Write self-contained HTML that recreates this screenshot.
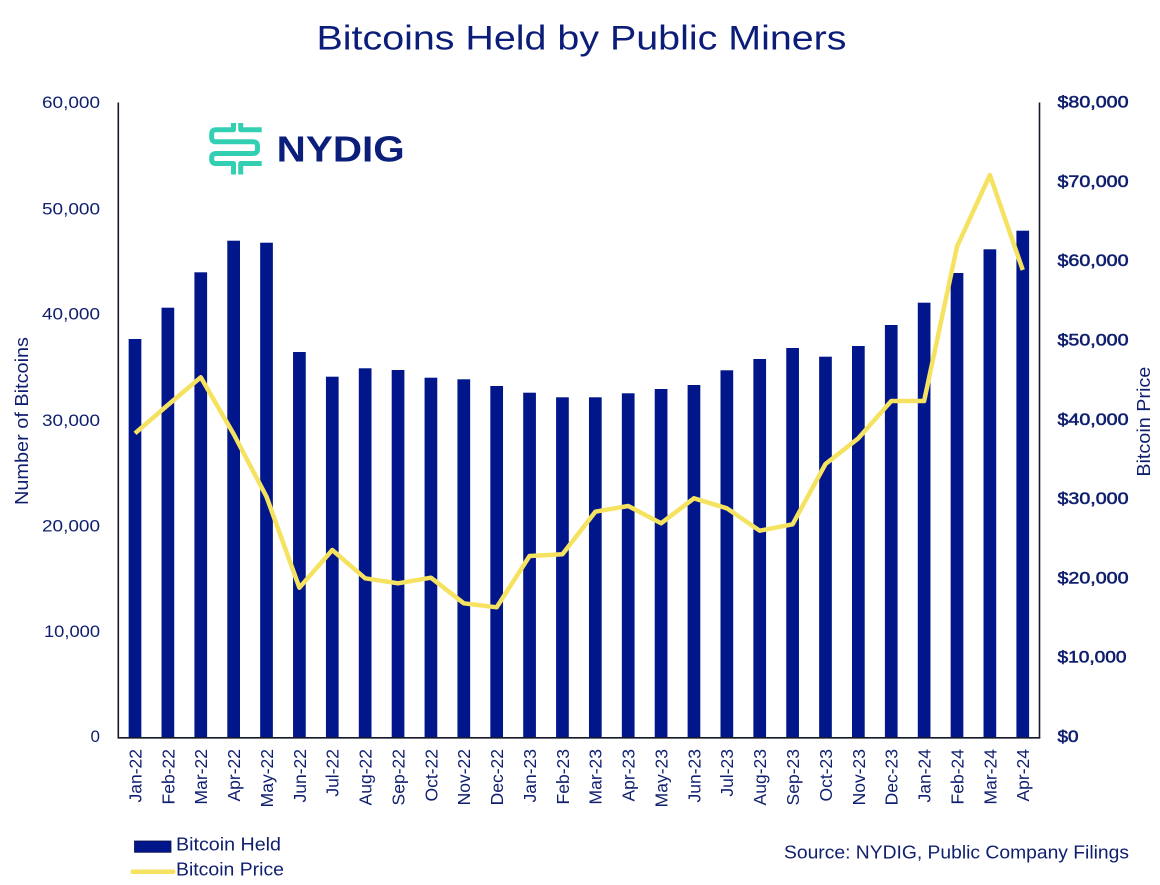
<!DOCTYPE html>
<html>
<head>
<meta charset="utf-8">
<style>
html,body{margin:0;padding:0;background:#fff;}
svg{display:block;}
text{font-family:"Liberation Sans",Arial,sans-serif;}
</style>
</head>
<body>
<svg width="1160" height="885" viewBox="0 0 1160 885" xmlns="http://www.w3.org/2000/svg">
<rect width="1160" height="885" fill="#fff"/>

<!-- Title -->
<text x="316.5" y="49.5" font-size="34" fill="#0B1D78" textLength="530" lengthAdjust="spacingAndGlyphs">Bitcoins Held by Public Miners</text>

<!-- NYDIG logo -->
<g fill="none" stroke="#33CFB2" stroke-width="5" stroke-linecap="butt" stroke-linejoin="round">
  <path d="M233.5 123 V129.7 H216 Q211.7 129.7 211.7 134 V137.5 Q211.7 141.8 216 141.8 H253 Q257.5 141.8 257.5 146 V149 Q257.5 153.5 253 153.5 H216 Q211.7 153.5 211.7 158 V159.2 Q211.7 163.5 216 163.5 H233.5 V174.5"/>
  <path d="M240.7 123 V129.7 H261.7"/>
  <path d="M240.7 174.5 V163.5 H261.7"/>
</g>
<text x="276.7" y="161.7" font-size="36" font-weight="bold" fill="#0B1F7A" textLength="128" lengthAdjust="spacingAndGlyphs">NYDIG</text>

<!-- Bars -->
<g fill="#00168A">
  <rect x="128.65" y="339" width="12.7" height="398"/>
  <rect x="161.53" y="307.7" width="12.7" height="429.3"/>
  <rect x="194.41" y="272.3" width="12.7" height="464.7"/>
  <rect x="227.29" y="240.7" width="12.7" height="496.3"/>
  <rect x="260.17" y="242.7" width="12.7" height="494.3"/>
  <rect x="293.05" y="352" width="12.7" height="385"/>
  <rect x="325.93" y="376.7" width="12.7" height="360.3"/>
  <rect x="358.81" y="368.3" width="12.7" height="368.7"/>
  <rect x="391.69" y="370" width="12.7" height="367"/>
  <rect x="424.57" y="377.7" width="12.7" height="359.3"/>
  <rect x="457.45" y="379.3" width="12.7" height="357.7"/>
  <rect x="490.33" y="386" width="12.7" height="351"/>
  <rect x="523.21" y="392.7" width="12.7" height="344.3"/>
  <rect x="556.09" y="397.3" width="12.7" height="339.7"/>
  <rect x="588.97" y="397.3" width="12.7" height="339.7"/>
  <rect x="621.85" y="393.3" width="12.7" height="343.7"/>
  <rect x="654.73" y="389" width="12.7" height="348"/>
  <rect x="687.61" y="385" width="12.7" height="352"/>
  <rect x="720.49" y="370.3" width="12.7" height="366.7"/>
  <rect x="753.37" y="359" width="12.7" height="378"/>
  <rect x="786.25" y="348" width="12.7" height="389"/>
  <rect x="819.13" y="356.7" width="12.7" height="380.3"/>
  <rect x="852.01" y="346" width="12.7" height="391"/>
  <rect x="884.89" y="325" width="12.7" height="412"/>
  <rect x="917.77" y="302.7" width="12.7" height="434.3"/>
  <rect x="950.65" y="273" width="12.7" height="464"/>
  <rect x="983.53" y="249.3" width="12.7" height="487.7"/>
  <rect x="1016.41" y="230.7" width="12.7" height="506.3"/>
</g>

<!-- Price line -->
<polyline fill="none" stroke="#F6E261" stroke-width="4.5" stroke-linejoin="round" stroke-linecap="butt"
 points="135,433.3 167.88,405 200.76,377.3 233.64,434 266.52,496.7 299.4,587.7 332.28,550 365.16,578.3 398.04,583.3 430.92,577.7 463.8,603.3 496.68,607.3 529.56,556 562.44,554.3 595.32,511.7 628.2,506 661.08,523.3 693.96,498.3 726.84,508.3 759.72,530.7 792.6,524.3 825.48,464 858.36,438.3 891.24,401 924.12,401 957,246.7 989.88,175 1022.76,270"/>

<!-- Axes -->
<g stroke="#15172B" stroke-width="1.6" fill="none">
  <line x1="118.3" y1="102.5" x2="118.3" y2="738"/>
  <line x1="1039.5" y1="102.5" x2="1039.5" y2="738"/>
  <line x1="117.5" y1="737.8" x2="1040.3" y2="737.8"/>
</g>

<!-- Left tick labels -->
<g font-size="17" fill="#0F1F6E" text-anchor="end">
  <text x="100" y="742">0</text>
  <text x="100" y="637" textLength="56" lengthAdjust="spacingAndGlyphs">10,000</text>
  <text x="100" y="531.5" textLength="58" lengthAdjust="spacingAndGlyphs">20,000</text>
  <text x="100" y="425.8" textLength="58" lengthAdjust="spacingAndGlyphs">30,000</text>
  <text x="100" y="319.5" textLength="58" lengthAdjust="spacingAndGlyphs">40,000</text>
  <text x="100" y="214.3" textLength="58" lengthAdjust="spacingAndGlyphs">50,000</text>
  <text x="100" y="107.8" textLength="58" lengthAdjust="spacingAndGlyphs">60,000</text>
</g>

<!-- Right tick labels -->
<g font-size="16.5" fill="#0F1F6E" stroke="#0F1F6E" stroke-width="0.55">
  <text x="1057.5" y="742" textLength="21" lengthAdjust="spacingAndGlyphs">$0</text>
  <text x="1057.5" y="662.7" textLength="69" lengthAdjust="spacingAndGlyphs">$10,000</text>
  <text x="1057.5" y="583.4" textLength="71" lengthAdjust="spacingAndGlyphs">$20,000</text>
  <text x="1057.5" y="504.1" textLength="71" lengthAdjust="spacingAndGlyphs">$30,000</text>
  <text x="1057.5" y="424.8" textLength="71" lengthAdjust="spacingAndGlyphs">$40,000</text>
  <text x="1057.5" y="345.5" textLength="71" lengthAdjust="spacingAndGlyphs">$50,000</text>
  <text x="1057.5" y="266.2" textLength="71" lengthAdjust="spacingAndGlyphs">$60,000</text>
  <text x="1057.5" y="186.9" textLength="71" lengthAdjust="spacingAndGlyphs">$70,000</text>
  <text x="1057.5" y="107.6" textLength="71" lengthAdjust="spacingAndGlyphs">$80,000</text>
</g>

<!-- Axis titles -->
<text transform="translate(28,421) rotate(-90)" text-anchor="middle" font-size="18" fill="#0F1F6E" textLength="168" lengthAdjust="spacingAndGlyphs">Number of Bitcoins</text>
<text transform="translate(1150,421.7) rotate(-90)" text-anchor="middle" font-size="18" fill="#0F1F6E" textLength="110" lengthAdjust="spacingAndGlyphs">Bitcoin Price</text>

<!-- X labels -->
<g font-size="17.5" fill="#0F1F6E" text-anchor="end">
  <text transform="translate(141.4,749) rotate(-90)">Jan-22</text>
  <text transform="translate(174.3,749) rotate(-90)">Feb-22</text>
  <text transform="translate(207.2,749) rotate(-90)">Mar-22</text>
  <text transform="translate(240.0,749) rotate(-90)">Apr-22</text>
  <text transform="translate(272.9,749) rotate(-90)">May-22</text>
  <text transform="translate(305.8,749) rotate(-90)">Jun-22</text>
  <text transform="translate(338.7,749) rotate(-90)">Jul-22</text>
  <text transform="translate(371.6,749) rotate(-90)">Aug-22</text>
  <text transform="translate(404.4,749) rotate(-90)">Sep-22</text>
  <text transform="translate(437.3,749) rotate(-90)">Oct-22</text>
  <text transform="translate(470.2,749) rotate(-90)">Nov-22</text>
  <text transform="translate(503.1,749) rotate(-90)">Dec-22</text>
  <text transform="translate(536.0,749) rotate(-90)">Jan-23</text>
  <text transform="translate(568.8,749) rotate(-90)">Feb-23</text>
  <text transform="translate(601.7,749) rotate(-90)">Mar-23</text>
  <text transform="translate(634.6,749) rotate(-90)">Apr-23</text>
  <text transform="translate(667.5,749) rotate(-90)">May-23</text>
  <text transform="translate(700.4,749) rotate(-90)">Jun-23</text>
  <text transform="translate(733.2,749) rotate(-90)">Jul-23</text>
  <text transform="translate(766.1,749) rotate(-90)">Aug-23</text>
  <text transform="translate(799.0,749) rotate(-90)">Sep-23</text>
  <text transform="translate(831.9,749) rotate(-90)">Oct-23</text>
  <text transform="translate(864.8,749) rotate(-90)">Nov-23</text>
  <text transform="translate(897.6,749) rotate(-90)">Dec-23</text>
  <text transform="translate(930.5,749) rotate(-90)">Jan-24</text>
  <text transform="translate(963.4,749) rotate(-90)">Feb-24</text>
  <text transform="translate(996.3,749) rotate(-90)">Mar-24</text>
  <text transform="translate(1029.2,749) rotate(-90)">Apr-24</text>
</g>

<!-- Legend -->
<rect x="134.5" y="841" width="36.5" height="11.3" fill="#00168A" stroke="#0A0F4A" stroke-width="0.8"/>
<text x="176" y="850.7" font-size="18" fill="#0F1F6E" textLength="105" lengthAdjust="spacingAndGlyphs">Bitcoin Held</text>
<line x1="132.7" y1="871.7" x2="173.3" y2="871.7" stroke="#F6E261" stroke-width="4.5" stroke-linecap="round"/>
<text x="176" y="875.7" font-size="18" fill="#0F1F6E" textLength="108" lengthAdjust="spacingAndGlyphs">Bitcoin Price</text>

<!-- Source -->
<text x="784" y="858.3" font-size="18.5" fill="#0F1F6E" textLength="345" lengthAdjust="spacingAndGlyphs">Source: NYDIG, Public Company Filings</text>
</svg>
</body>
</html>
